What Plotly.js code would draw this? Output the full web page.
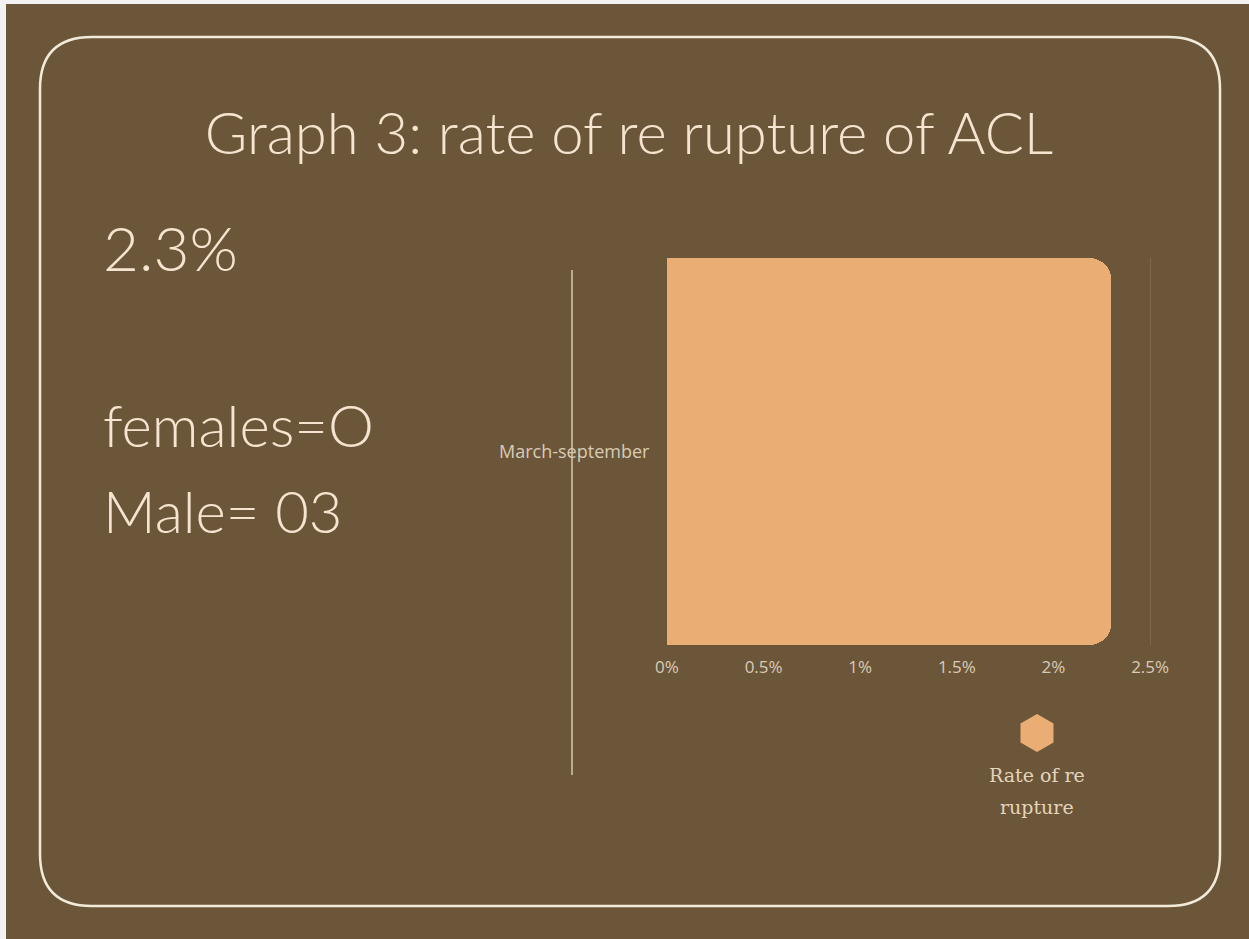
<!DOCTYPE html>
<html>
<head>
<meta charset="utf-8">
<script src="https://cdn.plot.ly/plotly-3.0.1.min.js"></script>
<style>html,body{margin:0;padding:0;background:#6c5639;}#chart{width:1249px;height:939px;}</style>
</head>
<body>
<div id="chart"></div>
<script>
// ---- data ----
const categories = ["March-september"];
const rupturePct = [2.3];
const seriesName = "Rate of re rupture";
const legendLines = ["Rate of re", "rupture"];
const chartTitle = "Graph 3: rate of re rupture of ACL";
const sideTexts = ["2.3%", "females=O", "Male= 03"];
const tickValues = [0, 0.5, 1, 1.5, 2, 2.5];
const tickLabels = ["0%", "0.5%", "1%", "1.5%", "2%", "2.5%"];

// ---- layout geometry ----
const W = 1249, H = 939;
const XMAX = 2.52;
const L = 667, R = Math.round(667 + XMAX * 193.2), T = 258, B = 645;
const px = x => (x - L) / (R - L);
const py = y => (B - y) / (B - T);

const cream = "#f5e4cf";
const brown = "#6c5639";
const barColor = "#eaae74";

function roundRect(x0, y0, x1, y1, r) {
  const p = (x, y) => px(x).toFixed(5) + "," + py(y).toFixed(5);
  return "M" + p(x0 + r, y0) + " L" + p(x1 - r, y0) + " Q" + p(x1, y0) + " " + p(x1, y0 + r) +
    " L" + p(x1, y1 - r) + " Q" + p(x1, y1) + " " + p(x1 - r, y1) +
    " L" + p(x0 + r, y1) + " Q" + p(x0, y1) + " " + p(x0, y1 - r) +
    " L" + p(x0, y0 + r) + " Q" + p(x0, y0) + " " + p(x0 + r, y0) + " Z";
}

const trace = {
  type: "bar",
  orientation: "h",
  y: categories,
  x: rupturePct,
  name: seriesName,
  marker: { color: barColor, cornerradius: 22 },
  hoverinfo: "x+y",
  showlegend: false
};

const displayFont = "Lato, 'Open Sans', sans-serif";

const layout = {
  width: W, height: H,
  paper_bgcolor: brown,
  plot_bgcolor: "rgba(0,0,0,0)",
  margin: { l: L, r: W - R, t: T, b: H - B, pad: 0 },
  bargap: 0,
  title: {
    text: chartTitle,
    x: 629 / W, xanchor: "center",
    y: 1 - 134 / H, yanchor: "middle",
    font: { family: displayFont, size: 58, color: cream, weight: 300 }
  },
  xaxis: {
    range: [0, XMAX],
    tickvals: tickValues,
    ticktext: tickLabels,
    showgrid: true,
    gridcolor: "#7d684d",
    gridwidth: 1,
    zeroline: false,
    showline: false,
    ticks: "outside", ticklen: 7, tickcolor: "rgba(0,0,0,0)",
    tickfont: { family: "'Open Sans', sans-serif", size: 17, color: "#d8cbb6" }
  },
  yaxis: {
    range: [-0.5, 0.5],
    showgrid: false, zeroline: false, showline: false,
    ticks: "outside", ticklen: 13, tickcolor: "rgba(0,0,0,0)",
    tickfont: { family: "'Open Sans', sans-serif", size: 18, color: "#d8cbb6" }
  },
  shapes: [
    // left/top light edge of image
    { type: "rect", xref: "paper", yref: "paper", x0: px(0), x1: px(6), y0: py(0), y1: py(H), fillcolor: "#f2f2f2", line: { width: 0 }, layer: "below" },
    { type: "rect", xref: "paper", yref: "paper", x0: px(0), x1: px(W), y0: py(0), y1: py(4), fillcolor: "#f2f2f2", line: { width: 0 }, layer: "below" },
    // rounded frame
    { type: "path", xref: "paper", yref: "paper", path: roundRect(40, 37, 1220, 906, 52), line: { color: "#f3ebda", width: 2.5 }, layer: "below" },
    // vertical divider
    { type: "line", xref: "paper", yref: "paper", x0: px(572), x1: px(572), y0: py(270), y1: py(775), line: { color: "#d9c8ad", width: 1.5 }, layer: "above" },
    // legend hexagon
    { type: "path", xref: "paper", yref: "paper", xsizemode: "pixel", ysizemode: "pixel",
      xanchor: px(1037), yanchor: py(733),
      path: "M0,19 L16.5,9.5 L16.5,-9.5 L0,-19 L-16.5,-9.5 L-16.5,9.5 Z",
      fillcolor: barColor, line: { width: 0 } }
  ],
  annotations: [
    { text: sideTexts[0], xref: "paper", yref: "paper", x: px(101), y: py(247), xanchor: "left", yanchor: "middle", showarrow: false,
      font: { family: displayFont, size: 62, color: cream, weight: 300 } },
    { text: sideTexts[1], xref: "paper", yref: "paper", x: px(101), y: py(424), xanchor: "left", yanchor: "middle", showarrow: false,
      font: { family: displayFont, size: 58, color: cream, weight: 300 } },
    { text: sideTexts[2], xref: "paper", yref: "paper", x: px(101), y: py(510), xanchor: "left", yanchor: "middle", showarrow: false,
      font: { family: displayFont, size: 58, color: cream, weight: 300 } },
    { text: legendLines[0], xref: "paper", yref: "paper", x: px(1037), y: py(775), xanchor: "center", yanchor: "middle", showarrow: false,
      font: { family: "'DejaVu Serif', serif", size: 19, color: "#e3d4bd" } },
    { text: legendLines[1], xref: "paper", yref: "paper", x: px(1037), y: py(807), xanchor: "center", yanchor: "middle", showarrow: false,
      font: { family: "'DejaVu Serif', serif", size: 19, color: "#e3d4bd" } }
  ]
};

Plotly.newPlot("chart", [trace], layout, { displayModeBar: false, staticPlot: true });
</script>
</body>
</html>
